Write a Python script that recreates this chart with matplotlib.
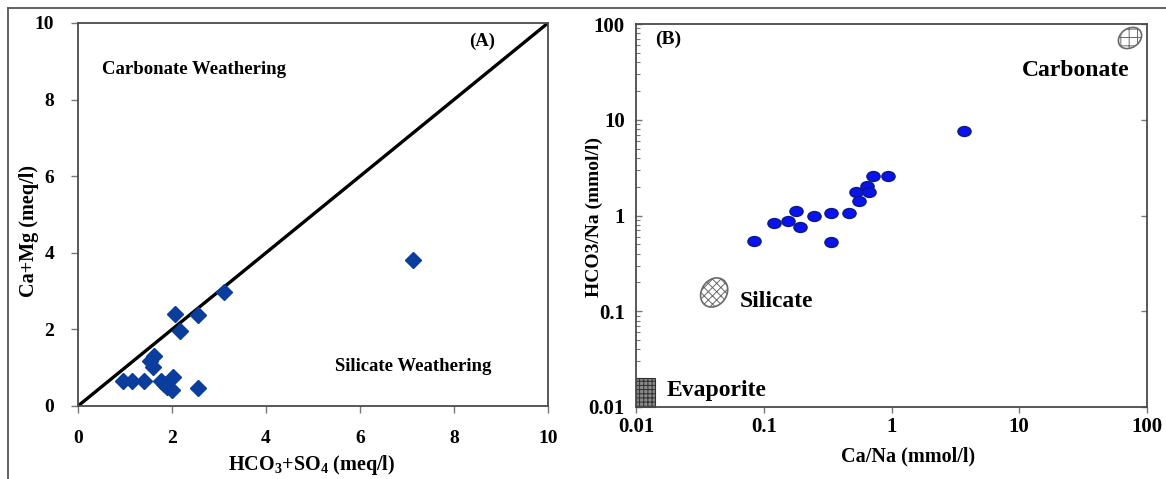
import numpy as np
import matplotlib
matplotlib.use("Agg")
import matplotlib.pyplot as plt
from matplotlib.patches import Ellipse, Rectangle
from matplotlib.path import Path
from matplotlib.markers import MarkerStyle
from matplotlib.lines import Line2D
from matplotlib.transforms import Affine2D
from matplotlib.ticker import LogLocator, NullFormatter, FixedLocator, FixedFormatter

plt.rcParams['font.family'] = ['Liberation Serif', 'DejaVu Serif']
plt.rcParams['font.weight'] = 'bold'
plt.rcParams['mathtext.fontset'] = 'custom'
plt.rcParams['mathtext.rm'] = 'Liberation Serif:bold'
plt.rcParams['mathtext.bf'] = 'Liberation Serif:bold'
plt.rcParams['mathtext.it'] = 'Liberation Serif:bold:italic'
plt.rcParams['hatch.linewidth'] = 0.7

# ---------------- Data: panel A ----------------
a_hco3_so4 = [3.10, 2.07, 2.56, 2.18, 1.62, 1.54, 1.60, 0.96, 1.15, 1.41,
              1.77, 2.03, 1.90, 2.00, 2.56, 1.82, 7.12]
a_ca_mg = [2.98, 2.41, 2.38, 1.96, 1.31, 1.18, 1.02, 0.65, 0.65, 0.65,
           0.65, 0.76, 0.50, 0.42, 0.47, 0.58, 3.82]
a_ticks = [0, 2, 4, 6, 8, 10]
a_line = [0, 10]

# ---------------- Data: panel B ----------------
b_ca_na = [3.69, 0.72, 0.944, 0.64, 0.53, 0.667, 0.56, 0.178, 0.247, 0.336,
           0.464, 0.12, 0.156, 0.192, 0.084, 0.336]
b_hco3_na = [7.64, 2.59, 2.56, 2.03, 1.77, 1.77, 1.43, 1.12, 0.98, 1.06,
             1.06, 0.835, 0.87, 0.76, 0.54, 0.525]
b_ticks = [0.01, 0.1, 1, 10, 100]
b_ticklabels = ['0.01', '0.1', '1', '10', '100']

# end-member fields (centres in data units)
field_names = ['Carbonate', 'Silicate']
field_x = [73.6, 0.0409]
field_y = [71.4, 0.157]
evap_x = [0.01, 0.0141]
evap_y = [0.01, 0.0201]

W, H = 1166, 479
fig = plt.figure(figsize=(W / 100, H / 100), dpi=100)
fig.patch.set_facecolor('white')

def fx(px):
    return px / W

def fy(py):
    return 1 - py / H

spine_col = '#4a4a4a'

# ---------------- Panel A ----------------
axA = fig.add_axes([fx(78), fy(406), fx(548) - fx(78), fy(23) - fy(406)])
axA.plot(a_line, a_line, color='black', lw=2.4, zorder=2)
axA.plot(a_hco3_so4, a_ca_mg, linestyle='none', marker='D', ms=8.3,
         color='#0b3d9c', mec='#0b3d9c', zorder=3)
axA.set_xlim(0, 10)
axA.set_ylim(0, 10)
axA.set_xticks(a_ticks)
axA.set_yticks(a_ticks)
axA.tick_params(axis='both', direction='out', length=5, width=1, color='#777',
                labelsize=14)
axA.tick_params(axis='x', pad=12)
axA.tick_params(axis='y', pad=12)
for s in axA.spines.values():
    s.set_color(spine_col)
    s.set_linewidth(1.3)
axA.set_xlabel(r'HCO$_3$+SO$_4$ (meq/l)', fontsize=14.5, fontweight='bold')
axA.xaxis.set_label_coords(0.498, -0.122)
axA.set_ylabel('Ca+Mg (meq/l)', fontsize=14.5, fontweight='bold')
axA.yaxis.set_label_coords(-0.083, 0.457)
axA.text(0.2463, 0.879, 'Carbonate Weathering', transform=axA.transAxes,
         fontsize=13.5, fontweight='bold', ha='center', va='center')
axA.text(0.713, 0.102, 'Silicate Weathering', transform=axA.transAxes,
         fontsize=13.5, fontweight='bold', ha='center', va='center')
axA.text(0.860, 0.953, '(A)', transform=axA.transAxes,
         fontsize=13.5, fontweight='bold', ha='center', va='center')

# ---------------- Panel B ----------------
axB = fig.add_axes([fx(636), fy(407), fx(1147) - fx(636), fy(24) - fy(407)])
axB.set_xscale('log')
axB.set_yscale('log')
axB.set_xlim(0.01, 100)
axB.set_ylim(0.01, 100)

ell = Path.unit_circle()
ell = Path(ell.vertices * np.array([1.0, 0.75]), ell.codes)
axB.plot(b_ca_na, b_hco3_na, linestyle='none', marker=MarkerStyle(ell), ms=9.5,
         color='#0a12f0', mec='#0a1a80', mew=1.0, zorder=3)

axB.xaxis.set_major_locator(FixedLocator(b_ticks))
axB.xaxis.set_major_formatter(FixedFormatter(b_ticklabels))
axB.xaxis.set_minor_locator(FixedLocator([]))
axB.yaxis.set_major_locator(FixedLocator(b_ticks))
axB.yaxis.set_major_formatter(FixedFormatter(b_ticklabels))
axB.yaxis.set_minor_locator(LogLocator(base=10, subs=np.arange(2, 10)))
axB.yaxis.set_minor_formatter(NullFormatter())
axB.tick_params(axis='x', which='major', direction='out', length=4, width=1,
                color='#777', labelsize=15, pad=3)
axB.tick_params(axis='y', which='major', direction='in', length=4, width=1,
                color='#777', labelsize=15, pad=8, right=True)
axB.tick_params(axis='y', which='minor', direction='in', length=3, width=0.8,
                color='#777', right=False)
for s in axB.spines.values():
    s.set_color(spine_col)
    s.set_linewidth(1.3)
axB.set_xlabel('Ca/Na (mmol/l)', fontsize=14.5, fontweight='bold')
axB.xaxis.set_label_coords(0.532, -0.104)
axB.set_ylabel('HCO3/Na (mmol/l)', fontsize=14, fontweight='bold')
axB.yaxis.set_label_coords(-0.064, 0.496)

# end-member fields (drawn in pixel units around their data centres)
field_w = [25, 31]
field_h = [19, 25]
field_ang = [35, 55]
field_hatch = ['++', 'xxxx']
for i in range(len(field_names)):
    cx, cy = axB.transData.transform((field_x[i], field_y[i]))
    e = Ellipse((0, 0), field_w[i], field_h[i], angle=field_ang[i],
                transform=Affine2D().translate(cx, cy), facecolor='white',
                edgecolor='#6a6a6a', hatch=field_hatch[i], lw=1.2, zorder=2)
    axB.add_patch(e)
axB.add_patch(Rectangle((evap_x[0], evap_y[0]), evap_x[1] - evap_x[0],
                        evap_y[1] - evap_y[0], facecolor='#8a8a8a',
                        edgecolor='#303030', hatch='++++', lw=0.8, zorder=2,
                        clip_on=False))

axB.text(0.861, 0.878, 'Carbonate', transform=axB.transAxes,
         fontsize=17, fontweight='bold', ha='center', va='center')
axB.text(0.275, 0.276, 'Silicate', transform=axB.transAxes,
         fontsize=17, fontweight='bold', ha='center', va='center')
axB.text(0.158, 0.042, 'Evaporite', transform=axB.transAxes,
         fontsize=17, fontweight='bold', ha='center', va='center')
axB.text(0.063, 0.961, '(B)', transform=axB.transAxes,
         fontsize=14, fontweight='bold', ha='center', va='center')

# outer frame (top and left edges)
fig.add_artist(Line2D([fx(8), 1], [fy(8), fy(8)], transform=fig.transFigure,
                      color='#555', lw=1.3))
fig.add_artist(Line2D([fx(8), fx(8)], [0, fy(8)], transform=fig.transFigure,
                      color='#555', lw=1.3))

fig.savefig('out.png', dpi=100, facecolor='white')
